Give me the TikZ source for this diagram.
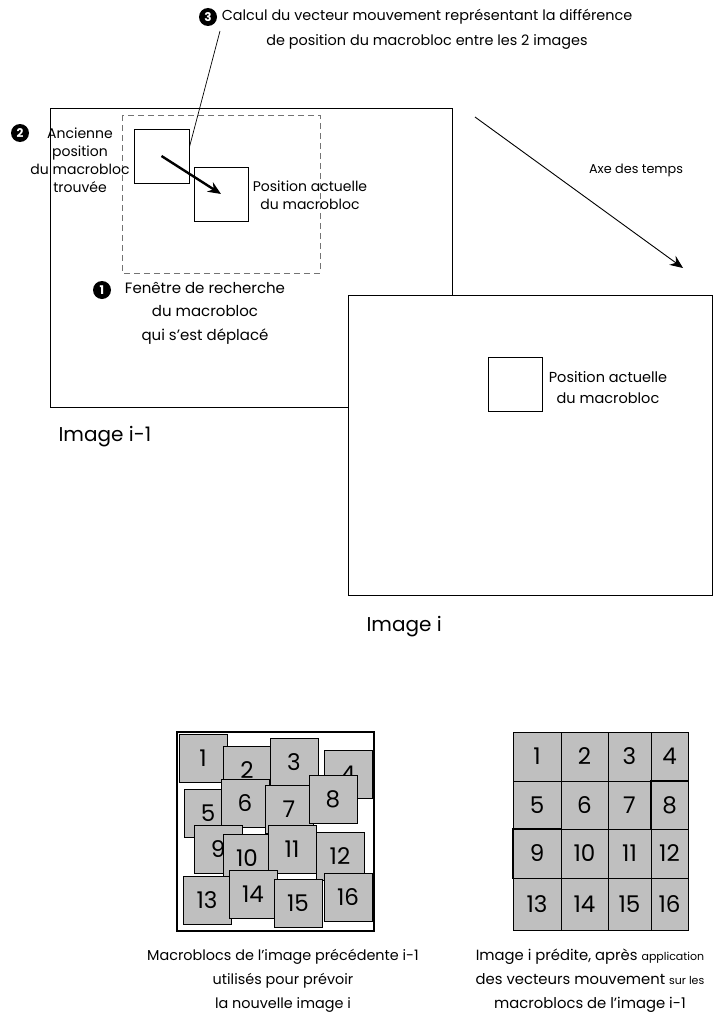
\documentclass[tikz,border=0pt]{standalone}
\usepackage{fontspec}
\setmainfont{Poppins}
\usetikzlibrary{arrows.meta}
\tikzset{
  frame/.style={draw, line width=1pt, fill=white},
  mb/.style={draw, line width=0.9pt, fill=white, inner sep=0pt},
  num/.style={circle, fill=black, text=white, inner sep=0pt, minimum size=18pt, font=\bfseries\fontsize{12}{12}\selectfont},
  lbl/.style={align=center, inner sep=0pt, font=\fontsize{14}{18}\selectfont},
  blk/.style={draw, line width=0.9pt, fill=black!25, inner sep=0pt, minimum size=48pt, font=\fontsize{23}{23}\selectfont},
  cell/.style={draw, line width=0.8pt, fill=black!25, inner sep=0pt, font=\fontsize{23}{23}\selectfont},
}
\begin{document}
\begin{tikzpicture}[x=1pt, y=-1pt]
  \useasboundingbox (0,0) rectangle (717,1033);
  % image i-1
  \draw[line width=1pt] (50,108) rectangle (452,407);
  \node[anchor=west, font=\fontsize{20}{20}\selectfont] (lim1) at (55,437) {Image i-1};
  % search window
  \draw[black!55, line width=0.9pt, dash pattern=on 6pt off 4pt] (122,115) rectangle (320,273);
  % old and current positions
  \node[mb, minimum width=55pt, minimum height=54pt] (old) at (161.5,156) {};
  \node[mb, minimum width=54pt, minimum height=54pt] (cur) at (221,194) {};
  \draw[line width=2.4pt, -{Stealth[length=13pt, width=11pt]}] (old.center) -- (cur.center);
  % labels 1, 2, 3
  \node[num] (n2) at (20,133) {2};
  \node[lbl] (tx2) at (80,160) {Ancienne\\position\\du macrobloc\\trouvée};
  \node[lbl] (txcur) at (310,195) {Position actuelle\\du macrobloc};
  \node[num] (n1) at (102,290) {1};
  \node[lbl, font=\fontsize{15}{23.5}\selectfont] (tx1) at (205,313) {Fenêtre de recherche\\du macrobloc\\qui s'est déplacé};
  \node[num] (n3) at (208,17) {3};
  \node[lbl, font=\fontsize{14.4}{25}\selectfont] (tx3) at (427,29.5) {Calcul du vecteur mouvement représentant la différence\\de position du macrobloc entre les 2 images};
  \coordinate (c3) at (220,31);
  \draw[line width=0.7pt] (c3) -- ([yshift=9pt]old.east);
  % time axis
  \coordinate (t0) at (475,117);
  \coordinate (t1) at (683,268);
  \draw[line width=0.9pt, -{Stealth[length=13pt, width=11pt]}] (t0) -- (t1);
  \node[font=\fontsize{12.8}{12.8}\selectfont] (axe) at (636,170) {Axe des temps};
  % image i
  \draw[frame] (348,295) rectangle (712,595);
  \node[anchor=west, font=\fontsize{20}{20}\selectfont] (li) at (363,627) {Image i};
  \node[mb, minimum width=54pt, minimum height=54pt] (cur2) at (515,384) {};
  \node[lbl, font=\fontsize{14.5}{21}\selectfont] (txcur2) at (608,388) {Position actuelle\\du macrobloc};
  % macroblocs of image i-1
  \draw[line width=1.8pt] (177,732) rectangle (374,931);
  \foreach \n/\x/\y in {1/203/758, 2/247/770, 3/294/762, 4/348/774,
                        5/208/813, 6/245/803, 7/289/809, 8/333/799,
                        9/218/849, 10/247/858, 11/292/849, 12/340/856,
                        13/207/900, 14/253/894, 15/298/903, 16/348/897}
    \node[blk] (b\n) at (\x,\y) {\n};
  % predicted image i
  \foreach \r in {0,...,3}
    \foreach \c in {0,...,3} {
      \pgfmathsetmacro\xa{{513,561,608,651,688}[\c]}
      \pgfmathsetmacro\xb{{513,561,608,651,688}[\c+1]}
      \pgfmathsetmacro\ya{{732,781,829,878,930}[\r]}
      \pgfmathsetmacro\yb{{732,781,829,878,930}[\r+1]}
      \pgfmathtruncatemacro\n{4*\r+\c+1}
      \node[cell, minimum width=\xb-\xa, minimum height=\yb-\ya] (p\n) at ({(\xa+\xb)/2},{(\ya+\yb)/2}) {\n};
    }
  \draw[line width=1.5pt] (p8.north west) rectangle (p8.south east);
  \draw[line width=1.5pt] (p9.north west) rectangle (p9.south east);
  % captions
  \node[lbl, font=\fontsize{14.4}{24}\selectfont] (cap1) at (283,981) {Macroblocs de l'image précédente i-1\\utilisés pour prévoir\\la nouvelle image i};
  \node[lbl, font=\fontsize{14.8}{24}\selectfont] (cap2) at (590,981) {Image i prédite, après {\fontsize{11}{11}\selectfont application}\\des vecteurs mouvement {\fontsize{11}{11}\selectfont sur les}\\macroblocs de l'image i-1};
\end{tikzpicture}
\end{document}
